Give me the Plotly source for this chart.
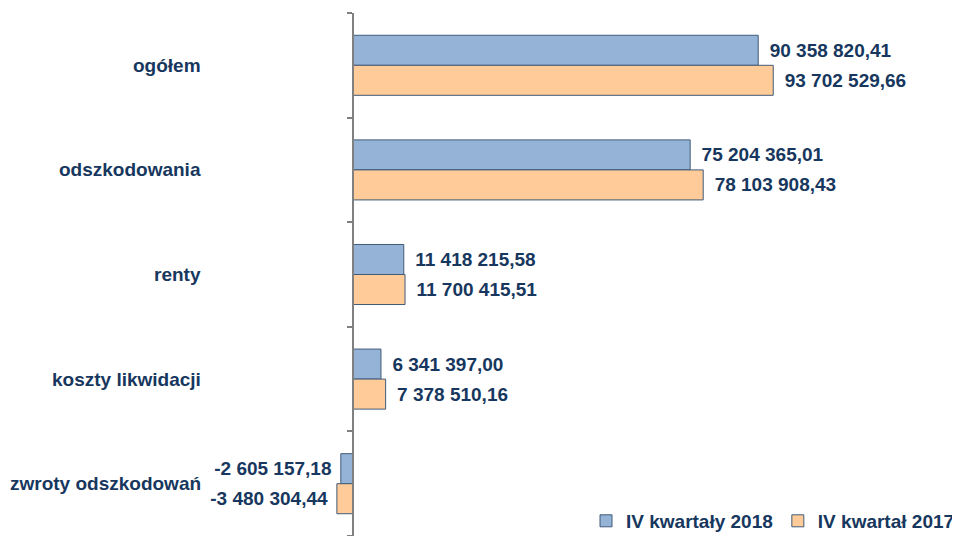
import plotly.graph_objects as go

categories = ["ogółem", "odszkodowania", "renty", "koszty likwidacji", "zwroty odszkodowań"]
series_names = ["IV kwartały 2018", "IV kwartał 2017"]
values_2018 = [90358820.41, 75204365.01, 11418215.58, 6341397.00, -2605157.18]
values_2017 = [93702529.66, 78103908.43, 11700415.51, 7378510.16, -3480304.44]

NAVY = "#17375E"
FONT = "Liberation Sans, Arial, sans-serif"
OFF = 8  # default page body margin
W, H = 960 - OFF, 536 - OFF
ZERO_PX = 352.5 - OFF
PX_PER_UNIT = 4.49e-6


def fmt(v):
    s = f"{abs(v):,.2f}".replace(",", " ").replace(".", ",")
    return ("-" + s) if v < 0 else s


def labels(vals):
    out = []
    for v in vals:
        if v < 0:
            out.append(fmt(v) + "\u2006\u2006")
        else:
            out.append("\u00a0\u2006" + fmt(v))
    return out


ypos = list(range(len(categories)))

fig = go.Figure()
for name, vals, color in [
    (series_names[0], values_2018, "#95B3D7"),
    (series_names[1], values_2017, "#FFCC99"),
]:
    fig.add_trace(go.Bar(
        name=name, x=vals, y=ypos, orientation="h",
        marker=dict(color=color, line=dict(color="#405A78", width=1)),
        text=labels(vals), textposition="outside", constraintext="none",
        textfont=dict(family=FONT, size=19, color=NAVY, weight="bold"),
        cliponaxis=False,
    ))

for i, c in enumerate(categories):
    fig.add_annotation(
        x=(203 - OFF) / W, xref="paper", y=i, yref="y", text=c, showarrow=False,
        xanchor="right", yanchor="middle",
        font=dict(family=FONT, size=19, color=NAVY, weight="bold"),
    )

xmin = -ZERO_PX / PX_PER_UNIT
xmax = (W - ZERO_PX) / PX_PER_UNIT

fig.update_layout(
    width=W, height=H,
    margin=dict(l=0, r=0, t=13 - OFF, b=0, autoexpand=False),
    paper_bgcolor="white", plot_bgcolor="white",
    barmode="group", bargap=0.426, bargroupgap=0,
    showlegend=True,
    legend=dict(
        orientation="h", x=1.0, xanchor="right", y=-4 / H, yanchor="bottom",
        font=dict(family=FONT, size=19, color=NAVY, weight="bold"),
        bgcolor="rgba(0,0,0,0)", traceorder="normal",
    ),
    xaxis=dict(range=[xmin, xmax], visible=False, showgrid=False, zeroline=False),
    yaxis=dict(
        range=[len(categories) - 0.5, -0.5],
        anchor="free", position=ZERO_PX / W,
        showline=True, linecolor="#808080", linewidth=1.5,
        ticks="outside", ticklen=5, tickcolor="#808080", tickwidth=1.5,
        tickvals=[i - 0.5 for i in range(len(categories) + 1)],
        showticklabels=False, showgrid=False, zeroline=False,
    ),
)

fig.write_html("out.html")
